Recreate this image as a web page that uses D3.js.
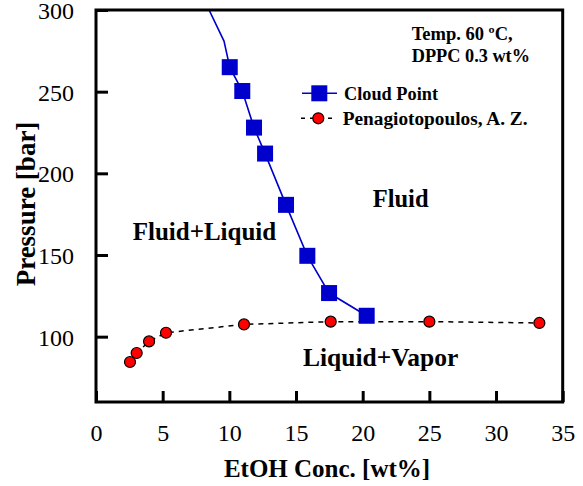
<!DOCTYPE html>
<html><head><meta charset="utf-8">
<script src="https://cdn.jsdelivr.net/npm/d3@7"></script>
<style>body{margin:0;background:#fff}svg{display:block;font-family:"Liberation Serif","Times New Roman",serif}</style>
</head><body>
<svg id="c" width="583" height="486"></svg>
<script>
const cloudX = [10.03, 10.97, 11.85, 12.68, 14.25, 15.85, 17.48, 20.3];
const cloudP = [265, 250.4, 228, 212.1, 180.7, 149.5, 126.7, 112.8];
const cloudLineX = [8.48, 9.6];
const cloudLineP = [300, 281];
const penX = [2.55, 3.05, 3.98, 5.25, 11.1, 17.6, 25.0, 33.25];
const penP = [84.5, 90, 97.1, 102.4, 107.5, 109.2, 109.2, 108.4];
const xTicks = [0, 5, 10, 15, 20, 25, 30, 35];
const yTicks = [100, 150, 200, 250, 300];

const svg = d3.select("#c");
const L = 96, R = 562.7, T = 10, B = 402;
const x = d3.scaleLinear().domain([0, 35]).range([L, R]);
const y = d3.scaleLinear().domain([60, 300]).range([B, T]);
const blue = "#0000cc";

svg.append("defs").append("clipPath").attr("id", "pc")
  .append("rect").attr("x", L).attr("y", T).attr("width", R - L).attr("height", B - T);

const g = svg.append("g").attr("clip-path", "url(#pc)");

// Penagiotopoulos dashed line
const pen = penX.map((v, i) => [v, penP[i]]);
g.append("path").datum(pen)
  .attr("d", d3.line().x(d => x(d[0])).y(d => y(d[1])))
  .attr("fill", "none").attr("stroke", "#000").attr("stroke-width", 1.5)
  .attr("stroke-dasharray", "5,5");

// Cloud line
const cloudLine = cloudLineX.map((v, i) => [v, cloudLineP[i]])
  .concat(cloudX.map((v, i) => [v, cloudP[i]]));
g.append("path").datum(cloudLine)
  .attr("d", d3.line().x(d => x(d[0])).y(d => y(d[1])))
  .attr("fill", "none").attr("stroke", blue).attr("stroke-width", 1.6);

// circles
g.selectAll("circle.p").data(pen).join("circle")
  .attr("cx", d => x(d[0])).attr("cy", d => y(d[1])).attr("r", 5.5)
  .attr("fill", "#ff0000").attr("stroke", "#000").attr("stroke-width", 1.2);

// squares
const s = 16;
g.selectAll("rect.s").data(cloudX.map((v, i) => [v, cloudP[i]])).join("rect")
  .attr("x", d => x(d[0]) - s / 2).attr("y", d => y(d[1]) - s / 2)
  .attr("width", s).attr("height", s).attr("fill", blue);

// axes
const xAxis = d3.axisBottom(x).tickValues(xTicks).tickSizeInner(-11).tickSizeOuter(0).tickPadding(22);
const yAxis = d3.axisLeft(y).tickValues(yTicks).tickSizeInner(-12).tickSizeOuter(0).tickPadding(22);
const gx = svg.append("g").attr("transform", `translate(0,${B})`).call(xAxis);
const gy = svg.append("g").attr("transform", `translate(${L},0)`).call(yAxis);
[gx, gy].forEach(a => {
  a.select(".domain").remove();
  a.selectAll(".tick line").attr("stroke", "#000").attr("stroke-width", 3);
  a.selectAll(".tick text").attr("font-size", 24).attr("fill", "#000")
    .attr("font-family", "Liberation Serif, Times New Roman, serif");
});
gy.selectAll(".tick text").attr("dy", "0.35em");
gx.selectAll(".tick text").attr("dy", "0.71em");

// frame
svg.append("rect").attr("x", L).attr("y", T).attr("width", R - L).attr("height", B - T)
  .attr("fill", "none").attr("stroke", "#000").attr("stroke-width", 3);

// axis titles
svg.append("text").attr("x", 327).attr("y", 477).attr("text-anchor", "middle")
  .attr("font-size", 25).attr("font-weight", "bold").text("EtOH Conc. [wt%]");
svg.append("text").attr("transform", "translate(35,204) rotate(-90)").attr("text-anchor", "middle")
  .attr("font-size", 27).attr("font-weight", "bold").text("Pressure [bar]");

// annotations
const ann = [
  ["Temp. 60 ºC,", 411.7, 40, 18.5],
  ["DPPC 0.3 wt%", 411.7, 62, 18.3],
  ["Fluid+Liquid", 132.7, 240, 25],
  ["Fluid", 372.7, 207, 24.5],
  ["Liquid+Vapor", 303, 366, 25.5]
];
ann.forEach(a => svg.append("text").attr("x", a[1]).attr("y", a[2])
  .attr("font-size", a[3]).attr("font-weight", "bold").text(a[0]));

// legend
const lg = svg.append("g");
lg.append("line").attr("x1", 302).attr("x2", 337).attr("y1", 93.3).attr("y2", 93.3)
  .attr("stroke", blue).attr("stroke-width", 1.6);
lg.append("rect").attr("x", 319.3 - 8).attr("y", 93.3 - 8).attr("width", 16).attr("height", 16).attr("fill", blue);
lg.append("text").attr("x", 344).attr("y", 100).attr("font-size", 18.3).attr("font-weight", "bold").text("Cloud Point");
lg.append("line").attr("x1", 301).attr("x2", 335).attr("y1", 118.3).attr("y2", 118.3)
  .attr("stroke", "#000").attr("stroke-width", 1.5).attr("stroke-dasharray", "4,5");
lg.append("circle").attr("cx", 318.3).attr("cy", 118.3).attr("r", 5.5)
  .attr("fill", "#ff0000").attr("stroke", "#000").attr("stroke-width", 1.2);
lg.append("text").attr("x", 342.7).attr("y", 125).attr("font-size", 19.3).attr("font-weight", "bold").text("Penagiotopoulos, A. Z.");
</script>
</body></html>
